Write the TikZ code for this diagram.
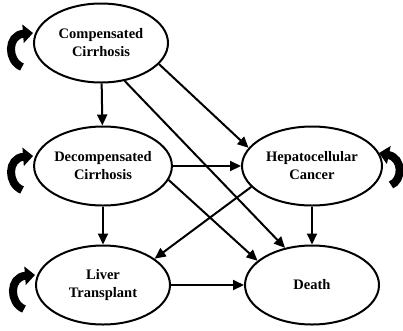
\documentclass[tikz,border=0pt]{standalone}
\usepackage{fontspec}
\setmainfont{Liberation Serif}
\usepackage{tikz}
\usetikzlibrary{shapes, arrows.meta, positioning, calc}

\begin{document}
\begin{tikzpicture}[x=1pt, y=-1pt,
    state/.style={ellipse, draw, line width=2pt, fill=white, inner sep=0pt,
        minimum width=134pt, minimum height=79pt, align=center,
        font=\fontsize{14.5}{18}\selectfont\bfseries},
    flow/.style={line width=2pt, -{Triangle[length=11pt,width=10pt]}},
    loop arrow/.style={line width=8pt, -{Triangle[length=10pt,width=18pt]}}]
    \useasboundingbox (0,0) rectangle (403,330);

    % States
    \node[state] (cc) at (101,43)  {Compensated\\Cirrhosis};
    \node[state] (dc) at (103,166) {Decompensated\\Cirrhosis};
    \node[state, minimum width=140pt] (hc) at (312,166) {Hepatocellular\\Cancer};
    \node[state] (lt) at (103,285) {Liver\\Transplant};
    \node[state] (de) at (312,285) {Death};

    % Transitions
    \draw[flow] (cc) -- (dc);
    \draw[flow] (cc.-20) -- (hc.164);
    \draw[flow] (cc.-58) -- (de.126);
    \draw[flow] (dc.east) -- (hc.west);
    \draw[flow] (dc.-12) -- (de.156);
    \draw[flow] (dc) -- (lt);
    \draw[flow] (hc.-161) -- (lt.27);
    \draw[flow] (hc) -- (de);
    \draw[flow] (lt.east) -- (de.west |- lt.east);

    % Staying in the same state
    \foreach \s in {cc, dc, lt}
        \draw[loop arrow] ($(\s.west)+(-11,24)$) .. controls ($(\s.west)+(-26,18)$)
            and ($(\s.west)+(-26,-8)$) .. ($(\s.west)+(0,-10)$);
    \draw[loop arrow] ($(hc.east)+(8,19)$) .. controls ($(hc.east)+(20,14)$)
        and ($(hc.east)+(20,-8)$) .. ($(hc.east)+(-4,-13)$);
\end{tikzpicture}
\end{document}
